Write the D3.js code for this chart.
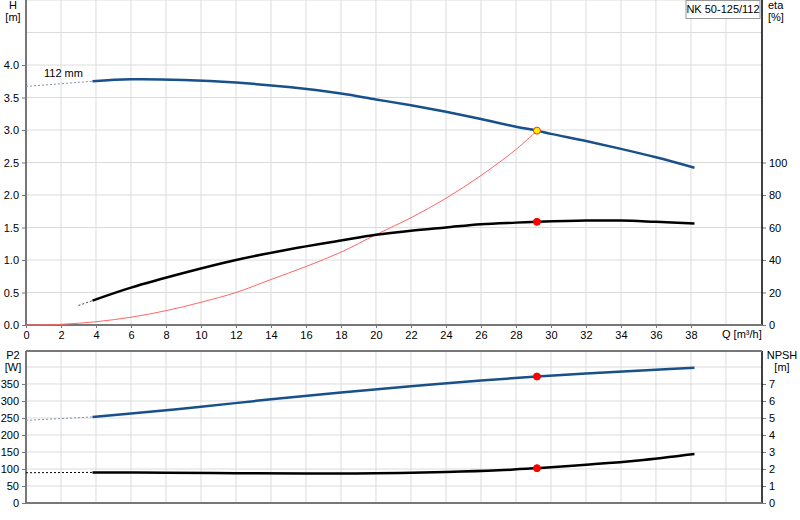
<!DOCTYPE html>
<html><head><meta charset="utf-8">
<script src="https://cdn.jsdelivr.net/npm/d3@7"></script>
<style>body{margin:0;background:#fff}text{font-family:"Liberation Sans",Arial,sans-serif;font-size:11px;fill:#000}</style>
</head><body><svg id="c" width="800" height="520"></svg>
<script>
// pump data
var headQ = [3.8, 6, 9, 12, 15, 18, 20, 22, 24, 26, 28, 29.2, 30, 32, 34, 36, 38.2];
var headH = [3.75, 3.78, 3.77, 3.73, 3.66, 3.56, 3.47, 3.38, 3.28, 3.17, 3.05, 2.99, 2.94, 2.83, 2.71, 2.58, 2.42];
var headExtQ = [0, 3.8], headExtH = [3.67, 3.75];
var etaQ = [3.8, 6, 9, 12, 15, 18, 20, 22, 24, 26, 28, 29.2, 32, 34, 36, 38.2];
var etaV = [15, 23, 32, 40, 46.5, 52, 55.5, 58, 60, 62, 63, 63.5, 64.3, 64.3, 63.5, 62.5];
var etaExtQ = [3, 3.8], etaExtV = [12, 15];
var sysQ = [0, 2, 4, 6, 8, 10, 12, 14, 16, 18, 20, 22, 24, 26, 28, 29.2];
var sysH = [0, 0.01, 0.05, 0.12, 0.22, 0.35, 0.5, 0.7, 0.9, 1.12, 1.39, 1.65, 1.95, 2.3, 2.7, 2.99];
var p2Q = [3.8, 6, 10, 14, 18, 22, 26, 29.2, 32, 36, 38.2];
var p2V = [253, 263, 283, 305, 325, 343, 360, 372, 381, 392, 398];
var p2ExtQ = [0, 3.8], p2ExtV = [243, 253];
var npshQ = [3.8, 8, 12, 16, 20, 24, 27, 29.2, 32, 35, 38.2];
var npshV = [1.8, 1.78, 1.75, 1.74, 1.75, 1.82, 1.92, 2.05, 2.25, 2.5, 2.88];
var npshExtQ = [0, 3.8], npshExtV = [1.78, 1.8];
var dutyQ = 29.2;
var qTicks = d3.range(0, 40, 2);
var hTicks = [0, 0.5, 1, 1.5, 2, 2.5, 3, 3.5, 4];
var etaTicks = [0, 20, 40, 60, 80, 100];
var p2Ticks = [0, 50, 100, 150, 200, 250, 300, 350];
var npshTicks = [0, 1, 2, 3, 4, 5, 6, 7];

var svg = d3.select('#c');
var x = d3.scaleLinear().domain([0, 42.06]).range([26, 762]);
var yH = d3.scaleLinear().domain([0, 5]).range([325, 0]);
var yEta = d3.scaleLinear().domain([0, 200]).range([325, 0]);
var yP = d3.scaleLinear().domain([0, 447]).range([503, 351]);
var yN = d3.scaleLinear().domain([0, 8.94]).range([503, 351]);

function grid(yTop, yBot, ys, yscale) {
  var g = svg.append('g').attr('stroke', '#dcdcdc').attr('stroke-width', 1);
  d3.range(2, 42, 2).forEach(function(q) {
    g.append('line').attr('x1', x(q)).attr('x2', x(q)).attr('y1', yTop).attr('y2', yBot);
  });
  ys.forEach(function(v) {
    g.append('line').attr('x1', x(0)).attr('x2', x.range()[1]).attr('y1', yscale(v)).attr('y2', yscale(v));
  });
}
grid(0, 325, d3.range(0.5, 5.01, 0.5), yH);
grid(351, 503, d3.range(50, 401, 50), yP);

function line(xs, ys, ysc, color, w, dash) {
  var pts = xs.map(function(q, i) { return [q, ys[i]]; });
  svg.append('path').datum(pts)
    .attr('d', d3.line().x(function(d) { return x(d[0]); }).y(function(d) { return ysc(d[1]); }).curve(d3.curveCatmullRom))
    .attr('fill', 'none').attr('stroke', color).attr('stroke-width', w)
    .attr('stroke-dasharray', dash || null);
}

// axes
function axes(yTop, yBot, left, right, leftTicks, rightTicks, fmt) {
  var la = svg.append('g').attr('transform', 'translate(' + x(0) + ',0)')
    .call(d3.axisLeft(left).tickValues(leftTicks).tickSize(4).tickFormat(fmt));
  var ra = svg.append('g').attr('transform', 'translate(' + x.range()[1] + ',0)')
    .call(d3.axisRight(right).tickValues(rightTicks).tickSize(4).tickFormat(d3.format('d')));
  [la, ra].forEach(function(a) {
    a.select('.domain').remove();
    a.selectAll('line').attr('stroke', '#777');
    a.selectAll('text').style('font-size', '11px');
  });
  svg.append('line').attr('x1', x(0)).attr('x2', x(0)).attr('y1', yTop).attr('y2', yBot).attr('stroke', '#777').attr('stroke-width', 2);
  svg.append('line').attr('x1', x.range()[1]).attr('x2', x.range()[1]).attr('y1', yTop).attr('y2', yBot).attr('stroke', '#000').attr('stroke-width', 1.5);
  svg.append('line').attr('x1', x(0)).attr('x2', x.range()[1]).attr('y1', yBot).attr('y2', yBot).attr('stroke', '#777').attr('stroke-width', 2);
}
axes(0, 325, yH, yEta, hTicks, etaTicks, d3.format('.1f'));
axes(351, 503, yP, yN, p2Ticks, npshTicks, d3.format('d'));
svg.append('line').attr('x1', x(0)).attr('x2', x.range()[1]).attr('y1', 351).attr('y2', 351).attr('stroke', '#777').attr('stroke-width', 2);

var xa = svg.append('g').attr('transform', 'translate(0,325)')
  .call(d3.axisBottom(x).tickValues(qTicks).tickSize(3).tickFormat(d3.format('d')));
xa.select('.domain').remove();
xa.selectAll('line').attr('stroke', '#777');
xa.selectAll('text').style('font-size', '11px');
svg.append('text').attr('x', 722).attr('y', 338).text('Q [m³/h]');

// unit labels
svg.append('text').attr('x', 13).attr('y', 9).attr('text-anchor', 'middle').text('H');
svg.append('text').attr('x', 13).attr('y', 21).attr('text-anchor', 'middle').text('[m]');
svg.append('text').attr('x', 768).attr('y', 9).text('eta');
svg.append('text').attr('x', 768).attr('y', 21).text('[%]');
svg.append('text').attr('x', 13).attr('y', 359).attr('text-anchor', 'middle').text('P2');
svg.append('text').attr('x', 13).attr('y', 371).attr('text-anchor', 'middle').text('[W]');
svg.append('text').attr('x', 782).attr('y', 359).attr('text-anchor', 'middle').text('NPSH');
svg.append('text').attr('x', 782).attr('y', 371).attr('text-anchor', 'middle').text('[m]');

// legend box
svg.append('rect').attr('x', 686).attr('y', 0.5).attr('width', 74).attr('height', 18).attr('fill', '#fff').attr('stroke', '#999');
svg.append('text').attr('x', 723).attr('y', 13).attr('text-anchor', 'middle').text('NK 50-125/112');

// curves
line(sysQ, sysH, yH, '#ff6666', 1);
line(headExtQ, headExtH, yH, '#7f93b5', 1, '2,2');
line(headQ, headH, yH, '#17508a', 2.5);
line(etaExtQ, etaExtV, yEta, '#444', 1, '2,2');
line(etaQ, etaV, yEta, '#000', 2.5);
line(p2ExtQ, p2ExtV, yP, '#7f93b5', 1, '2,2');
line(p2Q, p2V, yP, '#17508a', 2.5);
line(npshExtQ, npshExtV, yN, '#000', 1, '2,2');
line(npshQ, npshV, yN, '#000', 2.5);
svg.append('text').attr('x', 44).attr('y', 77).text('112 mm');

// duty points
function dot(q, v, ysc, fill, stroke) {
  svg.append('circle').attr('cx', x(q)).attr('cy', ysc(v)).attr('r', 3.5).attr('fill', fill).attr('stroke', stroke);
}
dot(dutyQ, 2.99, yH, '#ffee00', '#ff3300');
dot(dutyQ, 63.5, yEta, '#ff0000', '#ff0000');
dot(dutyQ, 372, yP, '#ff0000', '#ff0000');
dot(dutyQ, 2.05, yN, '#ff0000', '#ff0000');
</script></body></html>
